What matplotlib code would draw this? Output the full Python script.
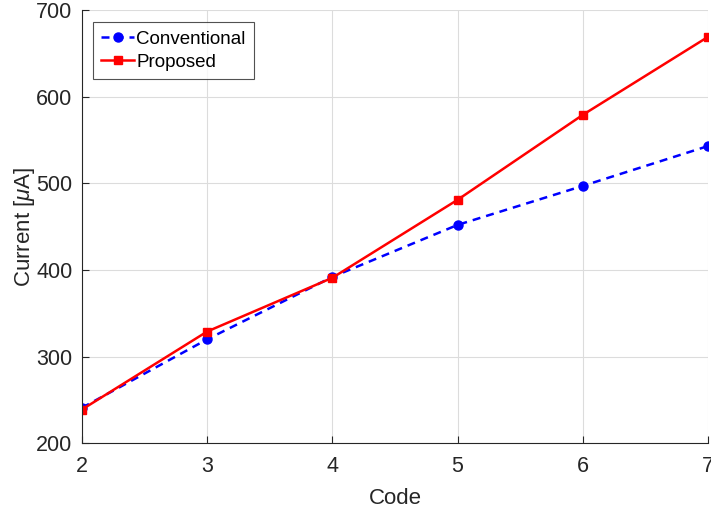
import matplotlib
matplotlib.use("Agg")
import matplotlib.pyplot as plt

codes = [2, 3, 4, 5, 6, 7]
conventional = [241, 320, 392, 452, 497, 543]
proposed = [239, 329, 391, 481, 579, 669]

plt.rcParams['font.family'] = ['Liberation Sans', 'DejaVu Sans']
plt.rcParams['mathtext.fontset'] = 'custom'
plt.rcParams['mathtext.it'] = 'Liberation Sans:italic'
plt.rcParams['mathtext.rm'] = 'Liberation Sans'

fig = plt.figure(figsize=(7.11, 5.15), dpi=100)
ax = fig.add_axes([0.1153, 0.1392, 0.8805, 0.8414])

ax.plot(codes, conventional, color='#0000ff', linestyle='--', linewidth=1.8,
        marker='o', markersize=6.5, label='Conventional', dashes=(3.2, 2.4))
ax.plot(codes, proposed, color='#ff0000', linestyle='-', linewidth=1.8,
        marker='s', markersize=6, label='Proposed')

ax.set_xlim(2, 7)
ax.set_ylim(200, 700)
ax.set_xticks(codes)
ax.set_yticks([200, 300, 400, 500, 600, 700])
ax.grid(True, color='#dcdcdc', linewidth=0.8)
ax.set_axisbelow(True)

for side in ('top', 'right'):
    ax.spines[side].set_visible(False)
for side in ('left', 'bottom'):
    ax.spines[side].set_color('#262626')
    ax.spines[side].set_linewidth(0.8)

ax.tick_params(direction='in', length=5, width=0.8, colors='#262626',
               labelsize=15.5)
ax.tick_params(axis='x', pad=9)
ax.tick_params(axis='y', pad=7)
for lbl in ax.get_xticklabels() + ax.get_yticklabels():
    lbl.set_color('#262626')

ax.set_xlabel('Code', fontsize=16, color='#262626', labelpad=8)
ax.set_ylabel(r'Current [$\mu$A]', fontsize=16, color='#262626', labelpad=-1)

leg = ax.legend(loc='upper left', bbox_to_anchor=(0.0176, 0.972), fontsize=13.5,
                frameon=True, fancybox=False, edgecolor='#262626',
                borderpad=0.45, handlelength=1.75, handletextpad=0.12,
                labelspacing=0.32, borderaxespad=0.0)
leg.get_frame().set_linewidth(0.8)

fig.savefig('out.png', dpi=100)
